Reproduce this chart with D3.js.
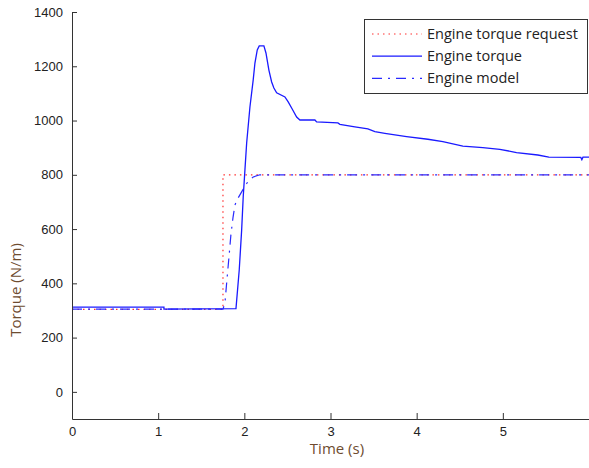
<!DOCTYPE html>
<html>
<head>
<meta charset="utf-8">
<script src="https://cdn.jsdelivr.net/npm/d3@7"></script>
<style>
  body { margin: 0; background: #fff; }
  svg { display: block; }
</style>
</head>
<body>
<script>
// values (time in s, torque in N/m)
let requestTime = [0, 1.752, 1.752, 6.0];
let requestTorque = [304, 304, 800, 800];

let engineTime = [0, 1.067, 1.067, 1.903, 1.941, 1.969, 1.987, 2.007, 2.027, 2.065, 2.103, 2.123,
  2.150, 2.173, 2.227, 2.251, 2.285, 2.317, 2.343, 2.375, 2.471, 2.509, 2.549, 2.607, 2.645,
  2.819, 2.839, 3.086, 3.109, 3.283, 3.434, 3.515, 3.631, 3.883, 4.130, 4.304, 4.536, 4.768,
  4.965, 5.159, 5.406, 5.534, 5.905, 5.917, 5.93, 6.0];
let engineTorque = [312, 312, 305, 307, 450, 597, 718, 818, 917, 1050, 1150, 1212,
  1260, 1275, 1275, 1249, 1186, 1142, 1120, 1102, 1087, 1069, 1046, 1013, 1002,
  1002, 995, 991, 986, 977, 969, 959, 953, 941, 931, 922, 906, 900,
  894, 882, 873, 865, 864, 856, 865, 865];

let modelTime = [0, 1.752, 1.775, 1.798, 1.821, 1.845, 1.868, 1.891, 1.929, 1.969, 2.007, 2.045, 2.103, 2.181, 6.0];
let modelTorque = [305, 305, 328, 413, 494, 582, 641, 689, 715, 737, 759, 776, 792, 800, 800];

let yTicks = [0, 200, 400, 600, 800, 1000, 1200, 1400];
let xTicks = [0, 1, 2, 3, 4, 5];
let legendNames = ["Engine torque request", "Engine torque", "Engine model"];

let width = 589;
let height = 468;

let x = d3.scaleLinear().domain([0, 6]).range([72, 589]);
let y = d3.scaleLinear().domain([-100, 1400]).range([419, 12]);

let svg = d3.select("body").append("svg")
  .attr("width", width)
  .attr("height", height);

let zip = (ts, vs) => ts.map((t, i) => [t, vs[i]]);

let line = d3.line()
  .x(d => x(d[0]))
  .y(d => y(d[1]));

let styles = [
  { color: "#ff3030", dash: "1.5,4", width: 1.2 },
  { color: "#1a1aff", dash: null, width: 1.3 },
  { color: "#2a2aff", dash: "10,6,2,6", width: 1.2 }
];

let series = [
  zip(requestTime, requestTorque),
  zip(engineTime, engineTorque),
  zip(modelTime, modelTorque)
];

let plot = svg.append("g");
series.forEach((s, i) => {
  plot.append("path")
    .datum(s)
    .attr("d", line)
    .attr("fill", "none")
    .attr("stroke", styles[i].color)
    .attr("stroke-width", styles[i].width)
    .attr("stroke-dasharray", styles[i].dash);
});

// axes, ticks point inward like matlab
let xAxis = g => g
  .attr("transform", `translate(0,${y(-100)})`)
  .call(d3.axisBottom(x).tickValues(xTicks).tickFormat(d3.format("d"))
    .tickSizeInner(-6).tickSizeOuter(0).tickPadding(8));

let yAxis = g => g
  .attr("transform", `translate(${x(0)},0)`)
  .call(d3.axisLeft(y).tickValues(yTicks).tickFormat(d3.format("d"))
    .tickSizeInner(-5).tickSizeOuter(0).tickPadding(9));

[svg.append("g").call(xAxis), svg.append("g").call(yAxis)].forEach(g => {
  g.attr("font-family", "'Liberation Sans', Arial, sans-serif").attr("font-size", 13);
  g.selectAll("path, line").attr("stroke", "#333");
  g.selectAll("text").attr("fill", "#222");
});

// axis titles
svg.append("text")
  .attr("x", 337)
  .attr("y", 454)
  .attr("text-anchor", "middle")
  .attr("font-family", "'Open Sans', sans-serif")
  .attr("font-size", 15)
  .attr("fill", "#6e4c30")
  .text("Time (s)");

svg.append("text")
  .attr("transform", "translate(21,290) rotate(-90)")
  .attr("text-anchor", "middle")
  .attr("font-family", "'Open Sans', sans-serif")
  .attr("font-size", 15)
  .attr("fill", "#6e4c30")
  .text("Torque (N/m)");

// legend
let legend = svg.append("g");
legend.append("rect")
  .attr("x", 364.5)
  .attr("y", 19.5)
  .attr("width", 223)
  .attr("height", 74)
  .attr("fill", "#fff")
  .attr("stroke", "#333");

legendNames.forEach((name, i) => {
  let ly = 34 + i * 22.2;
  legend.append("line")
    .attr("x1", 372).attr("x2", 422)
    .attr("y1", ly).attr("y2", ly)
    .attr("stroke", styles[i].color)
    .attr("stroke-width", styles[i].width)
    .attr("stroke-dasharray", styles[i].dash);
  legend.append("text")
    .attr("x", 427)
    .attr("y", ly)
    .attr("dy", "0.35em")
    .attr("font-family", "'Open Sans', sans-serif")
    .attr("font-size", 14.5)
    .attr("fill", "#222")
    .text(name);
});
</script>
</body>
</html>
